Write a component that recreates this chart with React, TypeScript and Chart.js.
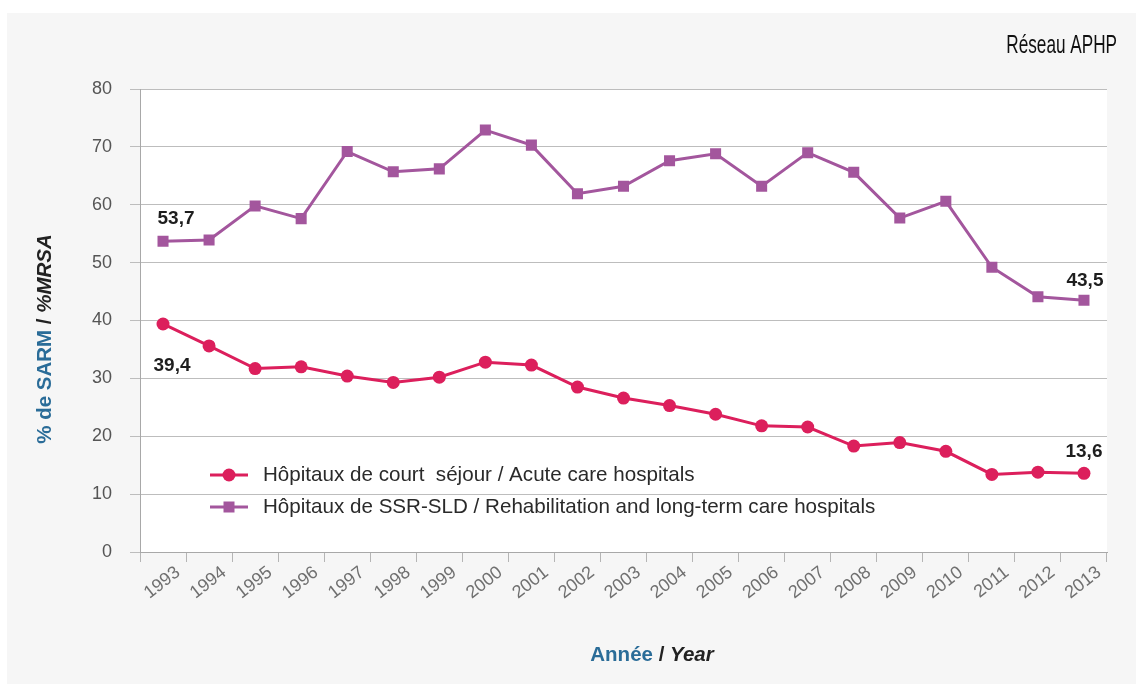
import React, { useEffect, useRef } from "react";
import { Chart, registerables } from "chart.js";

Chart.register(...registerables);

const years = ["1993", "1994", "1995", "1996", "1997", "1998", "1999", "2000", "2001", "2002", "2003", "2004", "2005", "2006", "2007", "2008", "2009", "2010", "2011", "2012", "2013"];
const acuteCare = [39.4, 35.6, 31.7, 32.0, 30.4, 29.3, 30.2, 32.8, 32.3, 28.5, 26.6, 25.3, 23.8, 21.8, 21.6, 18.3, 18.9, 17.4, 13.4, 13.8, 13.6];
const longTermCare = [53.7, 53.9, 59.8, 57.6, 69.2, 65.7, 66.2, 72.9, 70.3, 61.9, 63.2, 67.6, 68.8, 63.2, 69.0, 65.6, 57.7, 60.6, 49.2, 44.1, 43.5];
const seriesLabels = [
  "Hôpitaux de court  séjour / Acute care hospitals",
  "Hôpitaux de SSR-SLD / Rehabilitation and long-term care hospitals",
];
const yMin = 0;
const yMax = 80;
const yStep = 10;
const cornerTitle = "Réseau APHP";
const yTitleParts = ["% de SARM", " / ", "%MRSA"];
const xTitleParts = ["Année", " / ", "Year"];

const RED = "#dc1f5c";
const PURPLE = "#a3569d";
const BLUE = "#2a6c98";
const FONT = "'Liberation Sans', Arial, Helvetica, sans-serif";

// [dx, dy] offsets of value labels from first / last point, per dataset
const valueLabelOffsets = [
  { first: [9, 42], last: [0, -22] },
  { first: [13, -22], last: [1, -19] },
];

const backgroundPlugin = {
  id: "bg",
  beforeDraw(chart: any) {
    const { ctx, width, height, chartArea } = chart;
    ctx.save();
    ctx.fillStyle = "#ffffff";
    ctx.fillRect(0, 0, width, height);
    ctx.fillStyle = "#f6f6f6";
    ctx.fillRect(7, 13, width - 7, height - 13);
    ctx.fillStyle = "#ffffff";
    ctx.fillRect(chartArea.left, chartArea.top, chartArea.right - chartArea.left, chartArea.bottom - chartArea.top);
    ctx.restore();
  },
};

function drawParts(ctx: any, parts: { text: string; font: string; color: string }[], cx: number, cy: number, rotate: boolean) {
  ctx.save();
  ctx.translate(cx, cy);
  if (rotate) ctx.rotate(-Math.PI / 2);
  let total = 0;
  for (const p of parts) {
    ctx.font = p.font;
    total += ctx.measureText(p.text).width;
  }
  let x = -total / 2;
  ctx.textBaseline = "middle";
  ctx.textAlign = "left";
  for (const p of parts) {
    ctx.font = p.font;
    ctx.fillStyle = p.color;
    ctx.fillText(p.text, x, 0);
    x += ctx.measureText(p.text).width;
  }
  ctx.restore();
}

const decorPlugin = {
  id: "decor",
  afterDraw(chart: any) {
    const { ctx, chartArea } = chart;
    ctx.save();
    // corner title (condensed face)
    ctx.save();
    ctx.translate(chartArea.right + 10, 46);
    ctx.scale(0.66, 1);
    ctx.font = `26px ${FONT}`;
    ctx.fillStyle = "#111";
    ctx.textAlign = "right";
    ctx.textBaseline = "middle";
    ctx.fillText(cornerTitle, 0, 0);
    ctx.restore();

    // axis titles
    const tf = 20.5;
    drawParts(
      ctx,
      [
        { text: yTitleParts[0], font: `bold ${tf}px ${FONT}`, color: BLUE },
        { text: yTitleParts[1], font: `bold ${tf}px ${FONT}`, color: "#222" },
        { text: yTitleParts[2], font: `italic bold ${tf}px ${FONT}`, color: "#222" },
      ],
      45,
      339,
      true
    );
    drawParts(
      ctx,
      [
        { text: xTitleParts[0], font: `bold ${tf}px ${FONT}`, color: BLUE },
        { text: xTitleParts[1], font: `bold ${tf}px ${FONT}`, color: "#222" },
        { text: xTitleParts[2], font: `italic bold ${tf}px ${FONT}`, color: "#222" },
      ],
      652,
      655,
      false
    );

    // legend
    const legendX = chartArea.left + 70;
    const legendYs = [chartArea.top + 386, chartArea.top + 418];
    chart.data.datasets.forEach((ds: any, i: number) => {
      const y = legendYs[i];
      ctx.strokeStyle = ds.borderColor;
      ctx.lineWidth = 3;
      ctx.beginPath();
      ctx.moveTo(legendX, y);
      ctx.lineTo(legendX + 38, y);
      ctx.stroke();
      ctx.fillStyle = ds.pointBackgroundColor;
      if (ds.pointStyle === "circle") {
        ctx.beginPath();
        ctx.arc(legendX + 19, y, 6.5, 0, Math.PI * 2);
        ctx.fill();
      } else {
        ctx.fillRect(legendX + 19 - 5.5, y - 5.5, 11, 11);
      }
      ctx.font = `20.6px ${FONT}`;
      ctx.fillStyle = "#2a2a2a";
      ctx.textAlign = "left";
      ctx.textBaseline = "middle";
      ctx.fillText(ds.label, legendX + 53, y);
    });

    // value labels at first and last points
    chart.data.datasets.forEach((ds: any, i: number) => {
      const meta = chart.getDatasetMeta(i);
      const n = ds.data.length;
      const idxs: [number, number[]][] = [
        [0, valueLabelOffsets[i].first],
        [n - 1, valueLabelOffsets[i].last],
      ];
      for (const [idx, off] of idxs) {
        const pt = meta.data[idx];
        const txt = Number(ds.data[idx]).toFixed(1).replace(".", ",");
        ctx.font = `bold 19px ${FONT}`;
        ctx.fillStyle = "#1e1e1e";
        ctx.textAlign = "center";
        ctx.textBaseline = "middle";
        ctx.fillText(txt, pt.x + off[0], pt.y + off[1]);
      }
    });
    ctx.restore();
  },
};

export default function App() {
  const canvasRef = useRef<HTMLCanvasElement | null>(null);

  useEffect(() => {
    document.body.style.margin = "0";
    const canvas = canvasRef.current;
    if (!canvas) return;
    const chart = new Chart(canvas, {
      type: "line",
      data: {
        labels: years,
        datasets: [
          {
            label: seriesLabels[0],
            data: acuteCare,
            borderColor: RED,
            backgroundColor: RED,
            pointBackgroundColor: RED,
            pointBorderColor: RED,
            pointStyle: "circle",
            pointRadius: 6.5,
            pointBorderWidth: 0,
            borderWidth: 3,
            tension: 0,
          },
          {
            label: seriesLabels[1],
            data: longTermCare,
            borderColor: PURPLE,
            backgroundColor: PURPLE,
            pointBackgroundColor: PURPLE,
            pointBorderColor: PURPLE,
            pointStyle: "rect",
            pointRadius: 7.8,
            pointBorderWidth: 0,
            borderWidth: 3,
            tension: 0,
          },
        ],
      },
      options: {
        animation: false,
        responsive: false,
        maintainAspectRatio: false,
        layout: { padding: { left: 80, right: 29, top: 89, bottom: 72 } },
        plugins: {
          legend: { display: false },
          tooltip: { enabled: false },
          title: { display: false },
        },
        scales: {
          x: {
            offset: true,
            afterFit(scale: any) {
              scale.height = 60;
            },
            grid: {
              offset: true,
              drawOnChartArea: false,
              drawTicks: true,
              tickLength: 10,
              color: "#b5b5b5",
            },
            border: { color: "#a8a8a8", width: 1 },
            ticks: {
              autoSkip: false,
              minRotation: 38,
              maxRotation: 38,
              labelOffset: 15,
              padding: 0,
              color: "#707070",
              font: { family: FONT, size: 18 },
            },
          },
          y: {
            min: yMin,
            max: yMax,
            afterFit(scale: any) {
              scale.width = 60;
            },
            grid: {
              color: "#bdbdbd",
              drawTicks: true,
              tickLength: 10,
            },
            border: { color: "#a8a8a8", width: 1 },
            ticks: {
              stepSize: yStep,
              padding: 18,
              color: "#555",
              font: { family: FONT, size: 18 },
            },
          },
        },
      },
      plugins: [backgroundPlugin, decorPlugin],
    } as any);
    return () => chart.destroy();
  }, []);

  return (
    <div style={{ width: 1136, height: 684 }}>
      <canvas ref={canvasRef} width={1136} height={684} style={{ display: "block" }} />
    </div>
  );
}
